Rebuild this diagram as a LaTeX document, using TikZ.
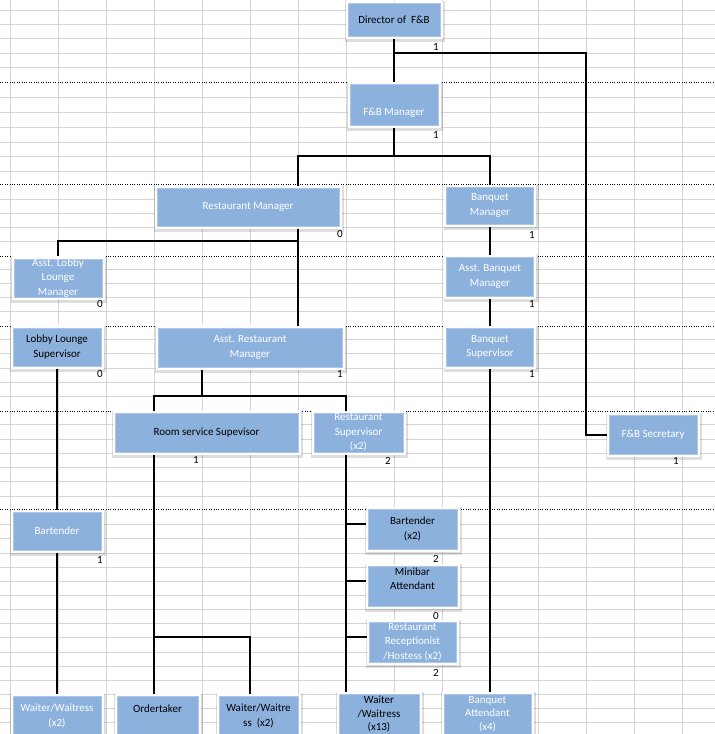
\documentclass[tikz,border=0pt]{standalone}
\usepackage{fontspec}
\setmainfont{Carlito}
\usetikzlibrary{shadows}

\definecolor{boxblue}{RGB}{141,177,221}
\definecolor{boxrim}{RGB}{172,199,233}
\definecolor{gridgray}{RGB}{212,212,212}
\newcommand{\boxfont}{\fontsize{11}{14.3}\selectfont}

\begin{document}
\begin{tikzpicture}[x=1pt, y=-1pt,
    gridline/.style={gridgray, line width=1pt},
    pgbrk/.style={black, line width=1pt, dash pattern=on 1pt off 1.4pt},
    box/.style={fill=boxblue, draw=boxrim, line width=0.8pt, inner sep=0pt, outer sep=2.5pt,
      align=center, font=\boxfont, text=white,
      general shadow={draw=black, line width=8pt, opacity=0.13, shadow xshift=1.2pt, shadow yshift=-1.6pt},
      preaction={draw=white, line width=5pt}},
    dark/.style={text=black},
    tight/.style={font=\fontsize{11}{13.6}\selectfont},
    cnt/.style={font=\boxfont, inner sep=0pt, anchor=base east},
    conn/.style={black, line width=2pt},
]
  \useasboundingbox[fill=white] (0,0) rectangle (715,734);

  % sheet
  \foreach \gx in {0,...,14}
    \draw[gridline] ({10.3+48*\gx},0) -- ++(0,734);
  \foreach \gy in {10,24,38,53,67,82,97,112,127,142,156,171,184,199,213,227,241,256,269,283,297,
                   311,326,339,353,368,382,396,411,424,439,453,467,481,496,509,524,538,553,567,
                   581,595,609,623,637,652,666,680,694,708,722}
    \draw[gridline] (0,\gy) -- (715,\gy);
  \foreach \gy in {82,184,256,326,411,509} {
    \draw[white, line width=1.2pt] (0,\gy) -- (715,\gy);
    \draw[pgbrk] (0,\gy) -- (715,\gy);
  }

  \node[box, minimum width=92, minimum height=33, dark] (dir) at (394,19.5) {Director of~ F\&B};
  \node[box, minimum width=88, minimum height=41] (fbm) at (394,104.5) {\strut\\F\&B Manager};
  \node[box, minimum width=182, minimum height=38] (rm) at (248,207) {Restaurant Manager};
  \node[box, minimum width=87, minimum height=37] (bm) at (490,205.5) {Banquet\\Manager};
  \node[box, minimum width=88, minimum height=38] (alm) at (58,278) {Asst. Lobby\\Lounge\\Manager};
  \node[box, minimum width=88, minimum height=38, dark] (llsup) at (57,347) {Lobby Lounge\\Supervisor};
  \node[box, minimum width=184, minimum height=39] (arm) at (250,347.5) {Asst. Restaurant\\Manager};
  \node[box, minimum width=87, minimum height=39] (abm) at (490,276.5) {Asst. Banquet\\Manager};
  \node[box, minimum width=87, minimum height=38] (bsup) at (490,347) {Banquet\\Supervisor};
  \node[box, minimum width=183, minimum height=39, dark] (rssup) at (206.5,432.5) {Room service Supevisor};
  \node[box, minimum width=89, minimum height=39] (rsup) at (358.5,432.5) {Restaurant\\Supervisor\\(x2)};
  \node[box, minimum width=88, minimum height=39] (sec) at (653,434.5) {F\&B Secretary};
  \node[box, minimum width=88, minimum height=38] (bar) at (57,531) {Bartender};
  \node[box, minimum width=89, minimum height=40, dark] (bar2) at (412.5,529) {Bartender\\(x2)};
  \node[box, minimum width=89, minimum height=40, dark] (mini) at (412.5,586) {Minibar\\Attendant\\\mbox{}};
  \node[box, minimum width=87, minimum height=40] (recep) at (412.5,642) {Restaurant\\Receptionist\\/Hostess (x2)};
  \node[box, minimum width=88, minimum height=40] (wait1) at (57,716) {Waiter/Waitress\\(x2)};
  \node[box, minimum width=81, minimum height=40, dark] (ord) at (157.5,716) {Ordertaker\\\mbox{}};
  \node[box, minimum width=79, minimum height=40, dark] (wait2) at (258.5,716) {Waiter/Waitre\\ss~ (x2)};
  \node[box, minimum width=80, minimum height=40, dark, tight] (wait13) at (379,714) {Waiter\\/Waitress\\(x13)};
  \node[box, minimum width=87, minimum height=40, tight] (batt) at (487.5,714) {Banquet\\Attendant\\(x4)};

  % head counts
  \node[cnt] (c-dir) at (439,50.4) {1};
  \node[cnt] (c-fbm) at (439,138.4) {1};
  \node[cnt] (c-rm) at (343,237.7) {0};
  \node[cnt] (c-bm) at (535,238.4) {1};
  \node[cnt] (c-alm) at (103,307.7) {0};
  \node[cnt] (c-abm) at (535,307.7) {1};
  \node[cnt] (c-llsup) at (103,377.7) {0};
  \node[cnt] (c-arm) at (343,377.7) {1};
  \node[cnt] (c-bsup) at (535,377.7) {1};
  \node[cnt] (c-rssup) at (199,463.4) {1};
  \node[cnt] (c-rsup) at (391,464) {2};
  \node[cnt] (c-sec) at (679,464) {1};
  \node[cnt] (c-bar) at (103,563.4) {1};
  \node[cnt] (c-bar2) at (439,562.7) {2};
  \node[cnt] (c-mini) at (439,619.4) {0};
  \node[cnt] (c-recep) at (439,676.7) {2};

  \draw[conn] (dir.south) -- (fbm.north);
  \draw[conn] (dir.south) ++(0,14.5) -| ([xshift=-21pt]sec.west) -- (sec.west);
  \draw[conn] (fbm.south) -- ++(0,28.5);
  \draw[conn] ([xshift=50pt]rm.north) -- ++(0,-29.5) -| (bm.north);
  \draw[conn] ([xshift=50pt]rm.south) -- ([xshift=48pt]arm.north);
  \draw[conn] (alm.north) -- ++(0,-15.5) -| ([xshift=50pt]rm.south);
  \draw[conn] (bm.south) -- (abm.north);
  \draw[conn] (abm.south) -- (bsup.north);
  \draw[conn] (bsup.south) -- ([xshift=2.5pt]batt.north);
  \draw[conn] (llsup.south) -- (bar.north);
  \draw[conn] (bar.south) -- (wait1.north);
  \draw[conn] ([xshift=-48pt]arm.south) -- ++(0,26.5);
  \draw[conn] ([xshift=-52.5pt]rssup.north) -- ++(0,-14.5) -| ([xshift=-12.5pt]rsup.north);
  \draw[conn] ([xshift=-52.5pt]rssup.south) -- ([xshift=-3.5pt]ord.north);
  \draw[conn] ([xshift=-3.5pt]ord.north) -- ++(0,-56.5) -| ([xshift=-8.5pt]wait2.north);
  \draw[conn] ([xshift=-12.5pt]rsup.south) -- ([xshift=-33pt]wait13.north);
  \foreach \n in {bar2,mini,recep}
    \draw[conn] ([yshift=5.5pt]\n.west) -- ++(-19.5,0);
\end{tikzpicture}
\end{document}
